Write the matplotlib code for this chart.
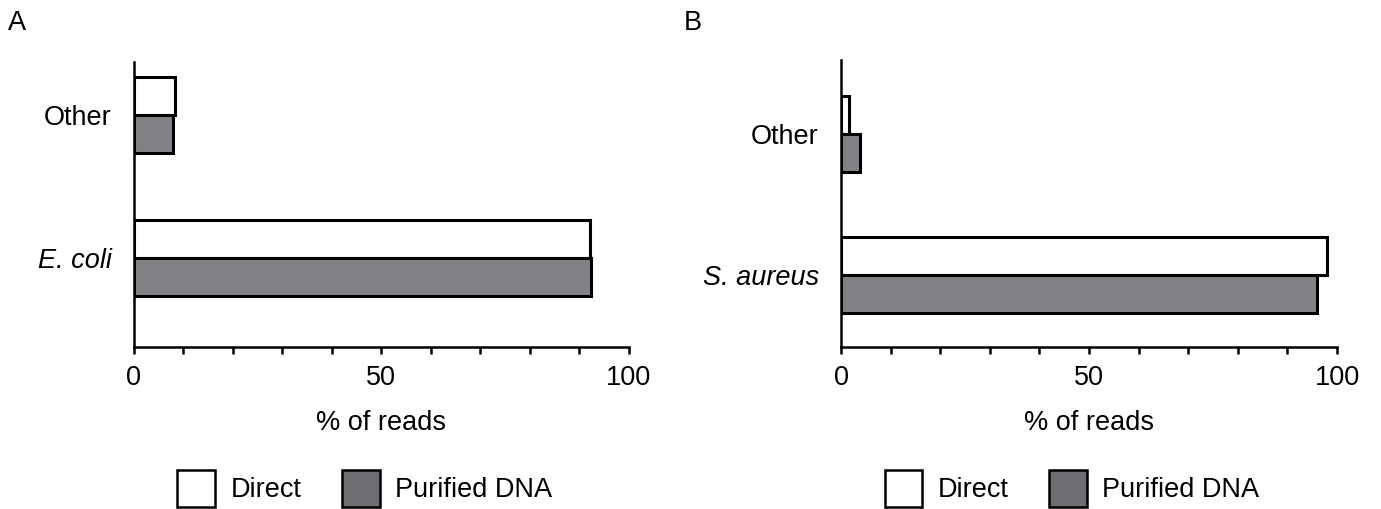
import matplotlib.pyplot as plt
from matplotlib.patches import Patch
from matplotlib.ticker import MultipleLocator

plt.rcParams['font.family'] = ['Liberation Sans', 'DejaVu Sans']

# panel A
cats_a = ['E. coli', 'Other']
direct_a = [92.1, 8.3]
purified_a = [92.3, 7.9]

# panel B
cats_b = ['S. aureus', 'Other']
direct_b = [98.0, 1.6]
purified_b = [96.0, 3.8]

white = '#ffffff'
grey = '#808285'
grey_leg = '#6d6e71'
fs = 19.5

fig = plt.figure(figsize=(13.81, 5.09), dpi=100)

def panel(rect, cats, direct, purified, ylim, h, letter, letter_x, leg_x):
    ax = fig.add_axes(rect)
    pos = list(range(len(cats)))
    ax.barh([p + h / 2 for p in pos], direct, height=h, color=white,
            edgecolor='black', linewidth=2.2)
    ax.barh([p - h / 2 for p in pos], purified, height=h, color=grey,
            edgecolor='black', linewidth=2.2)
    ax.set_xlim(0, 100)
    ax.set_ylim(*ylim)
    ax.set_yticks(pos)
    ax.set_yticklabels(cats, fontsize=fs)
    for lab in ax.get_yticklabels():
        if lab.get_text() != 'Other':
            lab.set_style('italic')
    ax.tick_params(axis='y', length=0, pad=16)
    ax.xaxis.set_major_locator(MultipleLocator(50))
    ax.xaxis.set_minor_locator(MultipleLocator(10))
    ax.tick_params(axis='x', which='both', length=5, width=1.8, labelsize=fs, pad=8)
    ax.set_xlabel('% of reads', fontsize=fs, labelpad=14)
    for s in ['top', 'right']:
        ax.spines[s].set_visible(False)
    for s in ['left', 'bottom']:
        ax.spines[s].set_linewidth(1.8)
    fig.text(letter_x, 0.955, letter, fontsize=fs, ha='left', va='center')
    handles = [Patch(facecolor=white, edgecolor='black', linewidth=1.8, label='Direct'),
               Patch(facecolor=grey_leg, edgecolor='black', linewidth=1.8, label='Purified DNA')]
    fig.legend(handles=handles, loc='center', bbox_to_anchor=(leg_x, 0.04),
               ncol=2, frameon=False, fontsize=fs, handlelength=1.4, handleheight=1.75,
               handletextpad=0.55, columnspacing=1.5, borderpad=0)
    return ax

panel([0.097, 0.3183, 0.3584, 0.5599], cats_a, direct_a, purified_a,
      (-0.622, 1.371), 0.266, 'A', 0.006, 0.264)
panel([0.609, 0.3183, 0.3592, 0.5639], cats_b, direct_b, purified_b,
      (-0.51, 1.525), 0.27, 'B', 0.495, 0.776)

fig.savefig('out.png', dpi=100)
